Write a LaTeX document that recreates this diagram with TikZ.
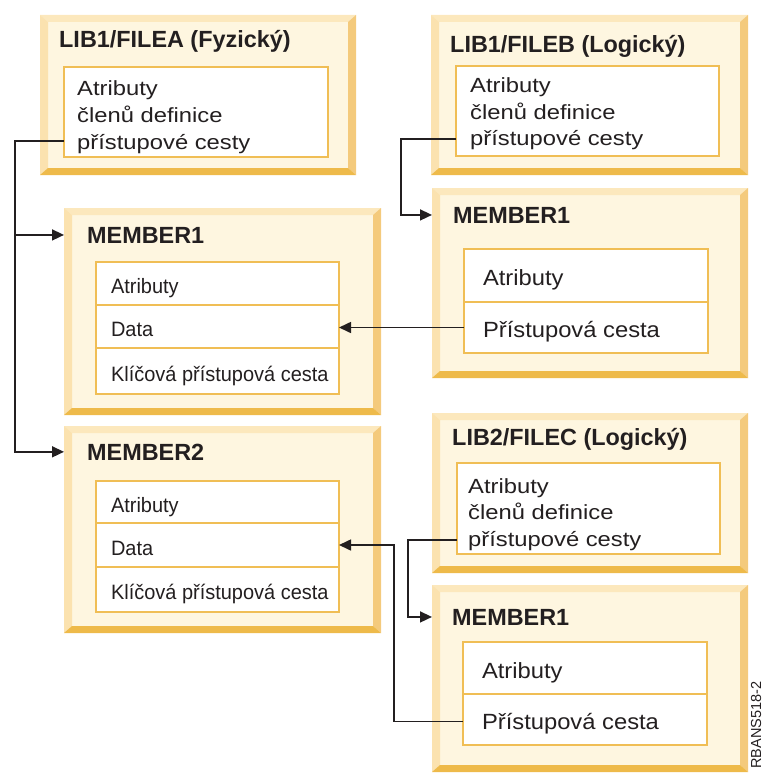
\documentclass[tikz,border=0pt]{standalone}
\usepackage{fontspec}
\setmainfont{Liberation Sans}
\newfontfamily\wideface[FakeStretch=1.16]{Liberation Sans}
\newfontfamily\rowface[FakeStretch=1.08]{Liberation Sans}
\newfontfamily\narrowface[FakeStretch=0.96]{Liberation Sans}
\usetikzlibrary{arrows.meta}

\definecolor{ink}{HTML}{231F20}
\definecolor{face}{HTML}{FEF6E0}
\definecolor{bevtopc}{HTML}{FCE8BD}
\definecolor{bevleftc}{HTML}{FBE2AF}
\definecolor{bevrightc}{HTML}{F4CA7C}
\definecolor{bevbotc}{HTML}{EEBA4A}
\definecolor{rim}{HTML}{F0BE55}

\tikzset{
  frame/.style={fill=face, draw=none, inner sep=0pt, outer sep=0pt, anchor=north west},
  inbox/.style={fill=white, draw=rim, line width=1.6pt, inner sep=0pt, outer sep=0pt, anchor=north west},
  rowbox/.style={inbox, text=ink, text height=20pt, text depth=0pt, inner ysep=0pt},
  lrow/.style={rowbox, minimum width=243pt, inner xsep=15pt, font=\narrowface\fontsize{20.8}{24}\selectfont},
  rrow/.style={rowbox, minimum width=244pt, inner xsep=19pt, font=\rowface\fontsize{22}{26}\selectfont},
  title/.style={anchor=base west, inner sep=0pt, text=ink, font=\fontsize{23.4}{28}\selectfont\bfseries},
  filetext/.style={anchor=base west, inner sep=0pt, text=ink, font=\wideface\fontsize{20.5}{26.5}\selectfont},
  link/.style={draw=ink, line width=1.6pt},
  arr/.style={link, -{Triangle[length=12pt,width=11pt]}},
}

% left-aligned row labels of fixed width
\newcommand\lcell[1]{\makebox[213pt][l]{#1}}
\newcommand\rcell[1]{\makebox[206pt][l]{#1}}

% bevelled rim around a frame node
\newcommand\bevel[1]{%
  \fill[bevtopc] (#1.north west) -- (#1.north east) -- ([shift={(-8,7)}]#1.north east) -- ([shift={(8,7)}]#1.north west) -- cycle;
  \fill[bevleftc] (#1.north west) -- ([shift={(8,7)}]#1.north west) -- ([shift={(8,-7)}]#1.south west) -- (#1.south west) -- cycle;
  \fill[bevrightc] (#1.north east) -- ([shift={(-8,7)}]#1.north east) -- ([shift={(-8,-7)}]#1.south east) -- (#1.south east) -- cycle;
  \fill[bevbotc] (#1.south west) -- ([shift={(8,-7)}]#1.south west) -- ([shift={(-8,-7)}]#1.south east) -- (#1.south east) -- cycle;
}

\begin{document}
\begin{tikzpicture}[x=1pt, y=-1pt]
\useasboundingbox (0,0) rectangle (765,773);

% outer frames
\node[frame, minimum width=316pt, minimum height=160pt] (fa) at (40,15) {};
\node[frame, minimum width=317pt, minimum height=160pt] (fb) at (431,15) {};
\node[frame, minimum width=317pt, minimum height=207pt] (m1) at (64,208) {};
\node[frame, minimum width=316pt, minimum height=190pt] (mb) at (432,188) {};
\node[frame, minimum width=317pt, minimum height=207pt] (m2) at (64,426) {};
\node[frame, minimum width=316pt, minimum height=160pt] (fc) at (432,413) {};
\node[frame, minimum width=316pt, minimum height=187pt] (mc) at (432,585) {};
\bevel{fa}\bevel{fb}\bevel{m1}\bevel{mb}\bevel{m2}\bevel{fc}\bevel{mc}

% titles
\node[title] (fa-t) at (59,48) {LIB1/FILEA (Fyzický)};
\node[title] (fb-t) at (450,53) {LIB1/FILEB (Logický)};
\node[title] (fc-t) at (452,445) {LIB2/FILEC (Logický)};
\node[title] (m1-t) at (87,243) {MEMBER1};
\node[title] (m2-t) at (87,460) {MEMBER2};
\node[title] (mb-t) at (453,223) {MEMBER1};
\node[title] (mc-t) at (452,625) {MEMBER1};

% file description boxes
\node[inbox, minimum width=264pt, minimum height=90pt] (fa-in) at (64,67) {};
\node[inbox, minimum width=263pt, minimum height=90pt] (fb-in) at (456,66) {};
\node[inbox, minimum width=263pt, minimum height=91pt] (fc-in) at (457,463) {};
\node[filetext] (fa-x) at (77,96) {\parbox[t]{240pt}{Atributy\\členů definice\\přístupové cesty}};
\node[filetext] (fb-x) at (470,93) {\parbox[t]{240pt}{Atributy\\členů definice\\přístupové cesty}};
\node[filetext] (fc-x) at (468,493) {\parbox[t]{240pt}{Atributy\\členů definice\\přístupové cesty}};

% member contents
\node[lrow, minimum height=43pt] (m1-a) at (96,262) {\lcell{Atributy}};
\node[lrow, minimum height=43pt] (m1-d) at (96,305) {\lcell{Data}};
\node[lrow, minimum height=46pt] (m1-k) at (96,348) {\lcell{Klíčová přístupová cesta}};
\node[lrow, minimum height=42pt] (m2-a) at (96,481) {\lcell{Atributy}};
\node[lrow, minimum height=44pt] (m2-d) at (96,523) {\lcell{Data}};
\node[lrow, minimum height=45pt] (m2-k) at (96,567) {\lcell{Klíčová přístupová cesta}};
\node[rrow, minimum height=53pt] (mb-a) at (464,249) {\rcell{Atributy}};
\node[rrow, minimum height=51pt] (mb-p) at (464,302) {\rcell{Přístupová cesta}};
\node[rrow, minimum height=52pt] (mc-a) at (463,642) {\rcell{Atributy}};
\node[rrow, minimum height=51pt] (mc-p) at (463,694) {\rcell{Přístupová cesta}};

% connectors
\draw[arr] ([yshift=-29pt]fa-in.west) -- ++(-49,0) coordinate (fa-bend) |- (m2.west |- m2-t);
\draw[arr] (fa-bend |- m1-t) -- (m1.west |- m1-t);
\draw[arr] ([yshift=-28pt]fb-in.west) -- ++(-55,0) |- (mb.west |- mb-t);
\draw[arr] ([yshift=-31.5pt]fc-in.west) -- ++(-49,0) |- (mc.west |- mc-t);
\draw[arr] (mb-p.west) -- (m1-d.east |- mb-p.west);
\draw[arr] ([yshift=-2pt]mc-p.west) -- ++(-69,0) |- (m2-d.east);

% figure identifier
\node[rotate=90, anchor=base west, inner sep=0pt, text=ink, font=\fontsize{14.5}{18}\selectfont] (figid) at (761,769) {RBANS518-2};
\end{tikzpicture}
\end{document}
